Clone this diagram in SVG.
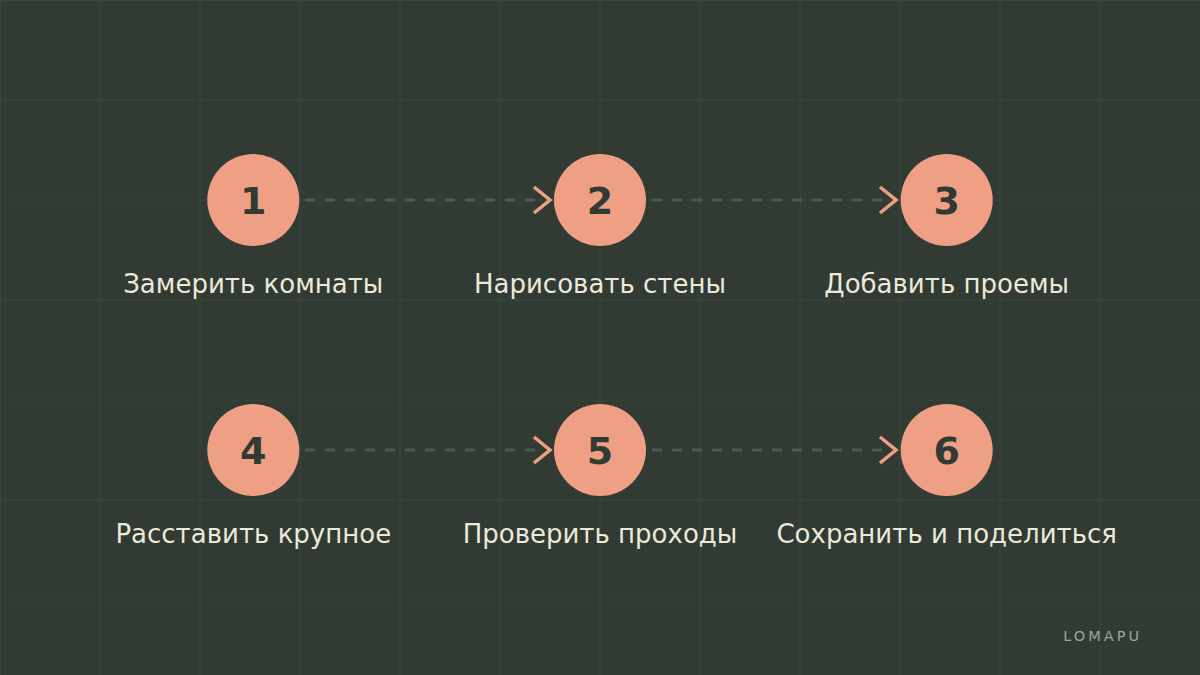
<svg xmlns="http://www.w3.org/2000/svg" width="1200" height="675" viewBox="0 0 1200 675">
<defs>
<style>
.grid line{stroke:#3b473d;stroke-width:1}
.dash{stroke:#4d5a50;stroke-width:3;stroke-dasharray:10 10;fill:none}
.chev{stroke:#ee9f84;stroke-width:3.5;fill:none;stroke-linecap:butt;stroke-linejoin:miter}
.node circle{fill:#ee9f84}
.num{font-family:"DejaVu Sans",sans-serif;font-weight:bold;font-size:38px;fill:#313a33;text-anchor:middle}
.lbl{font-family:"DejaVu Sans",sans-serif;font-size:26px;fill:#ebe9da;text-anchor:middle}
.brand{font-family:"DejaVu Sans",sans-serif;font-size:14.5px;fill:#9ea69c;letter-spacing:3px;text-anchor:end}
</style>
</defs>
<rect width="1200" height="675" fill="#313a33"/>
<g class="grid">
<line x1="0.5" y1="0" x2="0.5" y2="675"/>
<line x1="100" y1="0" x2="100" y2="675"/>
<line x1="200" y1="0" x2="200" y2="675"/>
<line x1="300" y1="0" x2="300" y2="675"/>
<line x1="400" y1="0" x2="400" y2="675"/>
<line x1="500" y1="0" x2="500" y2="675"/>
<line x1="600" y1="0" x2="600" y2="675"/>
<line x1="700" y1="0" x2="700" y2="675"/>
<line x1="800" y1="0" x2="800" y2="675"/>
<line x1="900" y1="0" x2="900" y2="675"/>
<line x1="1000" y1="0" x2="1000" y2="675"/>
<line x1="1100" y1="0" x2="1100" y2="675"/>
<line x1="0" y1="0.5" x2="1200" y2="0.5"/>
<line x1="0" y1="100" x2="1200" y2="100"/>
<line x1="0" y1="200" x2="1200" y2="200"/>
<line x1="0" y1="300" x2="1200" y2="300"/>
<line x1="0" y1="400" x2="1200" y2="400"/>
<line x1="0" y1="500" x2="1200" y2="500"/>
<line x1="0" y1="600" x2="1200" y2="600"/>
</g>
<g id="connectors">
<line class="dash" x1="305" y1="200" x2="545" y2="200"/>
<polyline class="chev" points="534,187 550,200 534,213"/>
<line class="dash" x1="652" y1="200" x2="892" y2="200"/>
<polyline class="chev" points="880,187 896,200 880,213"/>
<line class="dash" x1="305" y1="450" x2="545" y2="450"/>
<polyline class="chev" points="534,437 550,450 534,463"/>
<line class="dash" x1="652" y1="450" x2="892" y2="450"/>
<polyline class="chev" points="880,437 896,450 880,463"/>
</g>
<g id="step1" class="node"><circle cx="253.3" cy="200" r="46"/><text class="num" x="253.3" y="214">1</text><text class="lbl" x="253.3" y="293">Замерить комнаты</text></g>
<g id="step2" class="node"><circle cx="600" cy="200" r="46"/><text class="num" x="600" y="214">2</text><text class="lbl" x="600" y="293">Нарисовать стены</text></g>
<g id="step3" class="node"><circle cx="946.7" cy="200" r="46"/><text class="num" x="946.7" y="214">3</text><text class="lbl" x="946.7" y="293">Добавить проемы</text></g>
<g id="step4" class="node"><circle cx="253.3" cy="450" r="46"/><text class="num" x="253.3" y="464">4</text><text class="lbl" x="253.3" y="543">Расставить крупное</text></g>
<g id="step5" class="node"><circle cx="600" cy="450" r="46"/><text class="num" x="600" y="464">5</text><text class="lbl" x="600" y="543">Проверить проходы</text></g>
<g id="step6" class="node"><circle cx="946.7" cy="450" r="46"/><text class="num" x="946.7" y="464">6</text><text class="lbl" x="946.7" y="543">Сохранить и поделиться</text></g>
<text id="brand" class="brand" x="1142" y="641">LOMAPU</text>
</svg>
